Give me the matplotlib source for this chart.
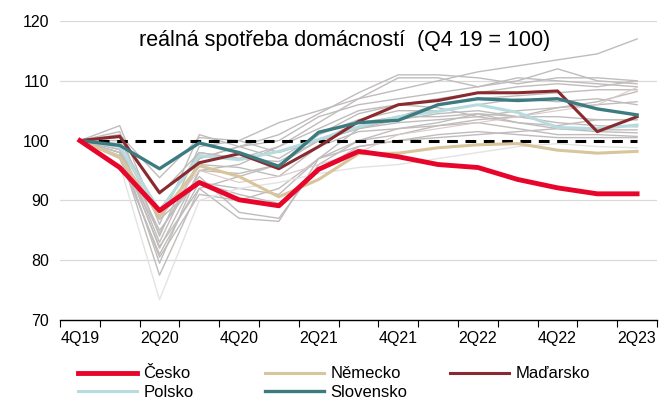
import numpy as np
import matplotlib
matplotlib.use('Agg')
import matplotlib.pyplot as plt
from matplotlib.lines import Line2D

plt.rcParams['font.family'] = ['Liberation Sans', 'DejaVu Sans']

# quarters 4Q19 .. 2Q23
quarters = ['4Q19', '1Q20', '2Q20', '3Q20', '4Q20', '1Q21', '2Q21', '3Q21',
            '4Q21', '1Q22', '2Q22', '3Q22', '4Q22', '1Q23', '2Q23']

# highlighted countries
cesko = [100, 95.5, 88.3, 93.0, 90.1, 89.1, 95.2, 98.2, 97.3, 96.0, 95.5, 93.5, 92.1, 91.1, 91.1]
nemecko = [100, 97.3, 87.3, 95.8, 94.0, 90.6, 93.5, 97.8, 97.9, 98.8, 99.3, 99.5, 98.4, 97.9, 98.2]
madarsko = [100, 100.7, 91.3, 96.3, 97.8, 95.3, 99.0, 103.2, 106.0, 106.7, 108.0, 108.0, 108.3, 101.5, 104.0]
polsko = [100, 99.0, 88.2, 97.5, 96.8, 98.2, 100.2, 102.3, 104.0, 104.9, 106.0, 104.7, 102.2, 102.0, 102.6]
slovensko = [100, 99.2, 95.3, 99.6, 98.0, 95.7, 101.4, 103.0, 103.4, 106.0, 107.0, 106.7, 107.0, 105.3, 104.3]

# other EU countries (grey background lines)
g1 = [100, 101.5, 84.0, 99.0, 100.0, 103.0, 105.0, 107.0, 108.5, 110.0, 111.5, 112.5, 113.5, 114.5, 117.0]
g2 = [100, 102.5, 86.0, 101.0, 99.0, 101.0, 104.5, 108.0, 111.0, 111.0, 110.5, 109.5, 110.5, 110.5, 110.0]
g3 = [100, 99.0, 79.5, 95.0, 96.0, 99.0, 103.0, 107.0, 110.5, 110.5, 109.0, 110.0, 112.0, 110.0, 109.5]
g4 = [100, 98.0, 77.5, 92.0, 94.0, 96.0, 101.0, 104.5, 106.0, 107.0, 108.0, 109.0, 109.5, 109.0, 110.0]
g5 = [100, 97.0, 81.0, 93.0, 92.0, 91.0, 97.0, 102.0, 104.0, 106.0, 107.0, 107.5, 108.0, 108.5, 108.5]
g6 = [100, 99.5, 83.0, 97.0, 99.0, 97.0, 101.0, 103.5, 105.0, 105.0, 106.0, 107.0, 106.5, 107.0, 106.0]
g7 = [100, 98.5, 85.0, 94.0, 88.0, 87.0, 96.0, 100.0, 102.0, 103.0, 104.5, 103.0, 102.5, 103.5, 103.5]
g8 = [100, 99.0, 82.0, 95.0, 94.5, 96.0, 100.0, 102.0, 103.5, 104.5, 105.0, 104.0, 103.0, 102.5, 102.3]
g9 = [100, 100.0, 88.0, 98.0, 97.0, 99.0, 102.0, 105.0, 106.0, 105.5, 104.0, 103.0, 102.0, 101.5, 101.3]
g10 = [100, 97.5, 84.5, 96.0, 95.5, 94.0, 99.0, 101.5, 102.0, 102.5, 103.0, 102.0, 101.0, 101.0, 100.7]
g11 = [100, 101.0, 93.8, 100.5, 100.0, 98.0, 100.0, 103.0, 104.0, 104.0, 104.5, 104.0, 104.0, 103.5, 103.5]
g12 = [100, 98.0, 86.8, 93.0, 91.0, 89.5, 95.0, 99.0, 100.0, 101.0, 101.5, 101.0, 100.5, 100.5, 100.5]
g14 = [100, 99.0, 88.5, 97.0, 99.0, 100.0, 104.0, 106.0, 107.0, 108.0, 109.0, 110.5, 110.0, 109.5, 109.0]
g15 = [100, 100.5, 91.0, 98.0, 97.0, 96.5, 100.0, 102.0, 103.0, 103.5, 104.0, 105.0, 105.5, 106.0, 106.5]
g16 = [100, 98.5, 82.3, 92.0, 87.0, 86.5, 97.0, 100.0, 101.0, 102.5, 103.5, 104.0, 105.5, 106.5, 108.2]
g18 = [100, 98.0, 80.5, 91.0, 90.0, 92.0, 97.0, 99.0, 100.0, 100.5, 101.0, 101.5, 102.0, 101.8, 101.8]
# lighter ones
g13 = [100, 96.0, 73.4, 90.0, 92.0, 93.0, 94.5, 95.5, 96.0, 97.0, 98.0, 99.0, 99.5, 99.0, 98.8]
g17 = [100, 99.0, 87.0, 95.0, 93.0, 94.0, 96.0, 98.0, 101.0, 102.0, 103.0, 104.0, 105.0, 106.0, 108.9]

greys = [g1, g2, g3, g4, g5, g6, g7, g8, g9, g10, g11, g12, g14, g15, g16, g18]

x = np.arange(len(quarters))

fig = plt.figure(figsize=(6.61, 4.03), dpi=100)
ax = fig.add_axes([60 / 661, 83 / 403, 597 / 661, 299 / 403])

#grid
for yv in [80, 90, 110, 120]:
    ax.axhline(yv, color='#d9d9d9', lw=0.9, zorder=0)

for g in greys:
    ax.plot(x, g, color='#c0bcbc', lw=1.0, zorder=1)
ax.plot(x, g13, color='#e3e3e3', lw=1.0, zorder=1)
ax.plot(x, g17, color='#dcc8c8', lw=0.8, zorder=1)

#base line 100
ax.plot(x, [100] * len(x), color='black', lw=2.2, ls=(0, (3.5, 2.5)), zorder=2)

ax.plot(x, nemecko, color='#d9c59b', lw=2.2, zorder=3)
ax.plot(x, polsko, color='#b7dce0', lw=2.2, zorder=3)
ax.plot(x, madarsko, color='#8a2a2f', lw=2.2, zorder=4)
ax.plot(x, slovensko, color='#3c7b80', lw=2.4, zorder=4)
ax.plot(x, cesko, color='#e8052b', lw=3.5, zorder=5)

ax.set_xlim(-0.5, len(x) - 0.5)
ax.set_ylim(70, 120)
ax.set_yticks([70, 80, 90, 100, 110, 120])
ax.tick_params(axis='y', length=0, labelsize=11.5, pad=8)

ax.set_xticks(x[::2])
ax.set_xticklabels(quarters[::2])
ax.set_xticks(np.arange(-0.5, len(x), 1), minor=True)
ax.tick_params(axis='x', which='major', length=0, labelsize=11.5, pad=8)
ax.tick_params(axis='x', which='minor', length=5, width=0.8, direction='out')

for s in ['top', 'right', 'left']:
    ax.spines[s].set_visible(False)
ax.spines['bottom'].set_linewidth(1.0)

ax.text(0.477, 0.97, 'reálná spotřeba domácností  (Q4 19 = 100)', transform=ax.transAxes,
        ha='center', va='top', fontsize=15.5)

#legend in three columns placed by hand
items = [
    [('Česko', '#e8052b', 3.5), ('Polsko', '#b7dce0', 2.2)],
    [('Německo', '#d9c59b', 2.2), ('Slovensko', '#3c7b80', 2.4)],
    [('Maďarsko', '#8a2a2f', 2.2)],
]
xs = [70, 257, 442]
for col, x0 in zip(items, xs):
    handles = [Line2D([], [], color=c, lw=w) for _, c, w in col]
    labels = [n for n, _, _ in col]
    fig.legend(handles, labels, loc='upper left', bbox_to_anchor=(x0 / 661, 1 - 358 / 403),
               frameon=False, fontsize=12, handlelength=3.5, handletextpad=0.4,
               labelspacing=0.2, borderpad=0)

fig.savefig('out.png', dpi=100)
